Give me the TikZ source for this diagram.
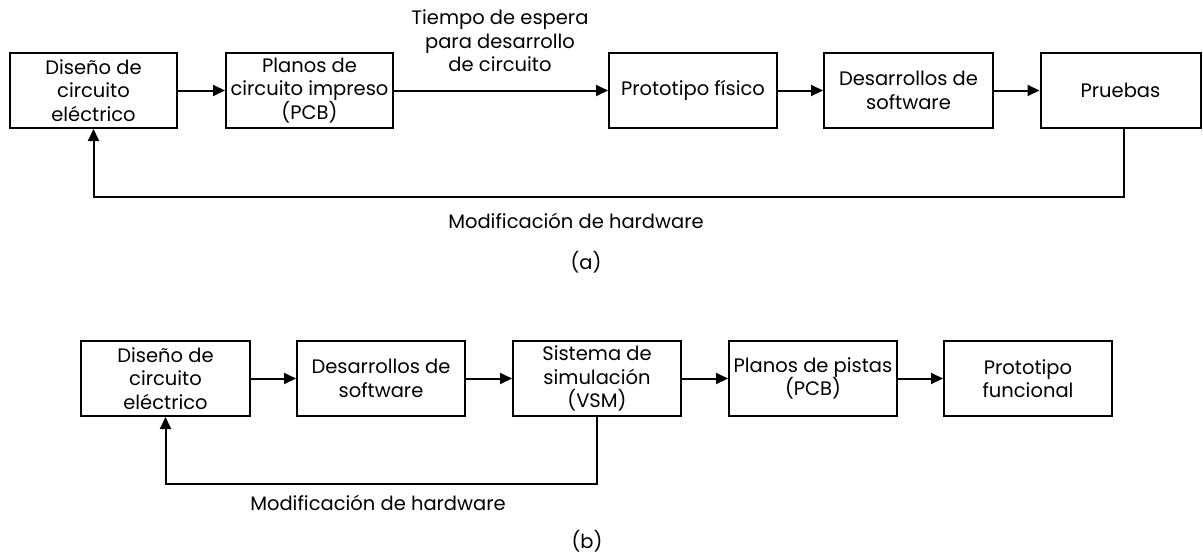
\documentclass[tikz,border=0pt]{standalone}
\usepackage{fontspec}
\setmainfont{Poppins}
\usetikzlibrary{arrows.meta}
\begin{document}
\begin{tikzpicture}[x=1pt,y=-1pt,
  box/.style={draw, line width=2pt, minimum height=75pt, inner sep=0pt, align=center,
    font=\fontsize{19.5}{23.5}\selectfont},
  lbl/.style={align=center, inner sep=0pt, font=\fontsize{19.5}{23.5}\selectfont},
  arr/.style={line width=2pt, -{Triangle[length=12pt,width=11pt]}}]
\useasboundingbox (0,0) rectangle (1203,554);
% (a)
\node[box, minimum width=167pt] (a1) at (93.5,90.5) {Diseño de\\circuito\\eléctrico};
\node[box, minimum width=167pt] (a2) at (309.5,90.5) {Planos de\\circuito impreso\\(PCB)};
\node[box, minimum width=168pt] (a3) at (693,90.5) {Prototipo físico};
\node[box, minimum width=169pt] (a4) at (908.5,90.5) {Desarrollos de\\software};
\node[box, minimum width=160pt] (a5) at (1120.5,90.5) {Pruebas};
\node[lbl] (ta) at (500,41) {Tiempo de espera\\para desarrollo\\de circuito};
\draw[arr] (a1) -- (a2);
\draw[arr] (a2) -- (a3);
\draw[arr] (a3) -- (a4);
\draw[arr] (a4) -- (a5);
\coordinate (fa1) at (1124,128);
\coordinate (fa2) at (1124,197);
\draw[arr] (fa1) -- (fa2) -| (a1.south);
\node[lbl] (ma) at (576,221) {Modificación de hardware};
\node[lbl] (capa) at (586,262) {(a)};
% (b)
\node[box, minimum width=169pt] (b1) at (165.5,378.5) {Diseño de\\circuito\\eléctrico};
\node[box, minimum width=168pt] (b2) at (381,378.5) {Desarrollos de\\software};
\node[box, minimum width=168pt] (b3) at (597,378.5) {Sistema de\\simulación\\(VSM)};
\node[box, minimum width=168pt] (b4) at (813,378.5) {Planos de pistas\\(PCB)};
\node[box, minimum width=168pt] (b5) at (1028,378.5) {Prototipo\\funcional};
\draw[arr] (b1) -- (b2);
\draw[arr] (b2) -- (b3);
\draw[arr] (b3) -- (b4);
\draw[arr] (b4) -- (b5);
\coordinate (fb) at (597,484);
\draw[arr] (b3.south) -- (fb) -| (b1.south);
\node[lbl] (mb) at (378,503) {Modificación de hardware};
\node[lbl] (capb) at (587,541) {(b)};
\end{tikzpicture}
\end{document}
